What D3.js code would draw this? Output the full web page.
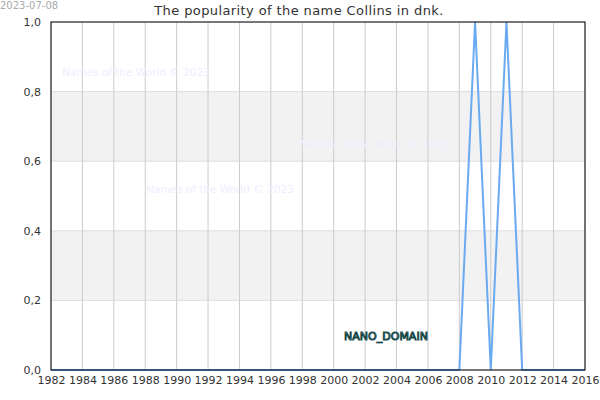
<!DOCTYPE html><html><head><meta charset="utf-8"><script src="https://d3js.org/d3.v7.min.js"></script><style>body{margin:0}text{font-family:"DejaVu Sans",sans-serif}</style></head><body><svg width="600" height="400"></svg><script>
const years=d3.range(1982,2017);
const values=years.map(y=>(y===2009||y===2011)?1:0);
const xTicks=d3.range(1982,2017,2);
const yTicks=[0,0.2,0.4,0.6,0.8,1.0];
const bands=[[0.2,0.4],[0.6,0.8]];
const svg=d3.select("svg");
const m={l:51,r:585,t:22,b:370};
const x=d3.scaleLinear().domain([1982,2016]).range([m.l,m.r]);
const y=d3.scaleLinear().domain([0,1]).range([m.b,m.t]);
svg.append("rect").attr("width",600).attr("height",400).attr("fill","#fff");
bands.forEach(b=>svg.append("rect").attr("x",m.l).attr("width",m.r-m.l).attr("y",y(b[1])).attr("height",y(b[0])-y(b[1])).attr("fill","#f2f2f2"));
yTicks.forEach(t=>svg.append("line").attr("x1",m.l).attr("x2",m.r).attr("y1",y(t)).attr("y2",y(t)).attr("stroke","#ddd"));
xTicks.forEach(t=>svg.append("line").attr("x1",x(t)).attr("x2",x(t)).attr("y1",m.t).attr("y2",m.b).attr("stroke","#ccc"));
const wm=[[62,76],[300,148],[146,193]];
wm.forEach(p=>svg.append("text").attr("x",p[0]).attr("y",p[1]).attr("font-size",10.5).attr("fill","#eeeeff").text("Names of the World © 2023"));
svg.append("path").datum(values).attr("fill","none").attr("stroke","#6aaaf0").attr("stroke-width",2)
 .attr("d",d3.line().x((d,i)=>x(years[i])).y(d=>y(d)));
svg.append("rect").attr("x",m.l).attr("y",m.t).attr("width",m.r-m.l).attr("height",m.b-m.t).attr("fill","none").attr("stroke","#000");
const xa=svg.append("g").attr("transform",`translate(0,${m.b})`).call(d3.axisBottom(x).tickValues(xTicks).tickFormat(d3.format("d")).tickSize(0).tickPadding(6));
const ya=svg.append("g").attr("transform",`translate(${m.l},0)`).call(d3.axisLeft(y).tickValues(yTicks).tickFormat(d=>d3.format(".1f")(d).replace(".",",")).tickSize(0).tickPadding(10));
[xa,ya].forEach(a=>{a.select(".domain").remove();a.selectAll("text").attr("font-size",11).attr("fill","#333").style("font-family","DejaVu Sans");});
svg.append("text").attr("x",299).attr("y",15).attr("text-anchor","middle").attr("font-size",13).attr("letter-spacing",0.4).attr("fill","#333").text("The popularity of the name Collins in dnk.");
svg.append("text").attr("x",0).attr("y",9).attr("font-size",10).attr("fill","#aaa").text("2023-07-08");
svg.append("text").attr("x",386).attr("y",340).attr("text-anchor","middle").attr("font-size",11).attr("fill","#bfe0e0").attr("stroke","#1a4a4a").attr("stroke-width",1).attr("paint-order","fill").text("NANO_DOMAIN");
</script></body></html>
